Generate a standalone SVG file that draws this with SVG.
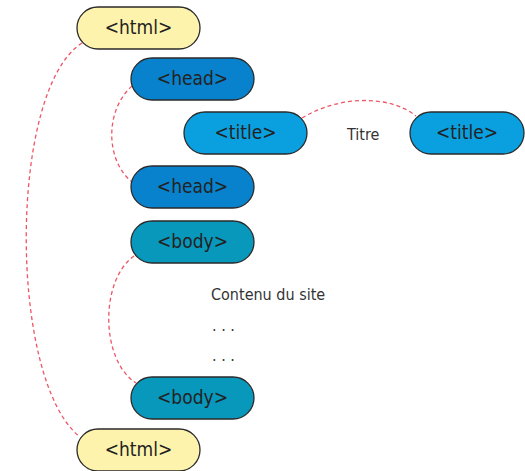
<svg xmlns="http://www.w3.org/2000/svg" width="525" height="471" viewBox="0 0 525 471">
<style>
.n rect{stroke:#2a2a2a;stroke-width:1.3}
.n text,.t{font-family:"DejaVu Sans Condensed","Liberation Sans",sans-serif;font-size:19px;fill:#222;text-anchor:middle}
.t{font-size:16px;fill:#333;text-anchor:start}
.c path{fill:none;stroke:#ee5566;stroke-width:1.3;stroke-dasharray:4 3}
</style>
<rect width="525" height="471" fill="#fff"/>
<g class="c">
<path d="M82,43 C8,90 8,380 80,437"/>
<path d="M132,86 C105,110 105,160 132,182"/>
<path d="M134,256 C100,280 100,360 136,383"/>
<path d="M302,118 C340,95 390,95 416,116"/>
</g>
<g id="html1" class="n"><rect x="77" y="7" width="123" height="42" rx="21" fill="#fdf3ad"/><text x="138.5" y="34">&lt;html&gt;</text></g>
<g id="head1" class="n"><rect x="131" y="58" width="123" height="42" rx="21" fill="#0882cc"/><text x="192.5" y="85">&lt;head&gt;</text></g>
<g id="title1" class="n"><rect x="184" y="112" width="123" height="42" rx="21" fill="#0aa0e0"/><text x="245.5" y="139">&lt;title&gt;</text></g>
<text class="t" x="347" y="140">Titre</text>
<g id="title2" class="n"><rect x="410" y="112" width="114" height="42" rx="21" fill="#0aa0e0"/><text x="467" y="139">&lt;title&gt;</text></g>
<g id="head2" class="n"><rect x="131" y="166" width="123" height="42" rx="21" fill="#0882cc"/><text x="192.5" y="193">&lt;head&gt;</text></g>
<g id="body1" class="n"><rect x="131" y="221" width="123" height="42" rx="21" fill="#0898bc"/><text x="192.5" y="248">&lt;body&gt;</text></g>
<text class="t" x="211" y="300">Contenu du site</text>
<text class="t" x="212" y="331" fill="#666">. . .</text>
<text class="t" x="212" y="361" fill="#666">. . .</text>
<g id="body2" class="n"><rect x="131" y="377" width="123" height="42" rx="21" fill="#0898bc"/><text x="192.5" y="404">&lt;body&gt;</text></g>
<g id="html2" class="n"><rect x="77" y="429" width="123" height="42" rx="21" fill="#fdf3ad"/><text x="138.5" y="456">&lt;html&gt;</text></g>
</svg>
